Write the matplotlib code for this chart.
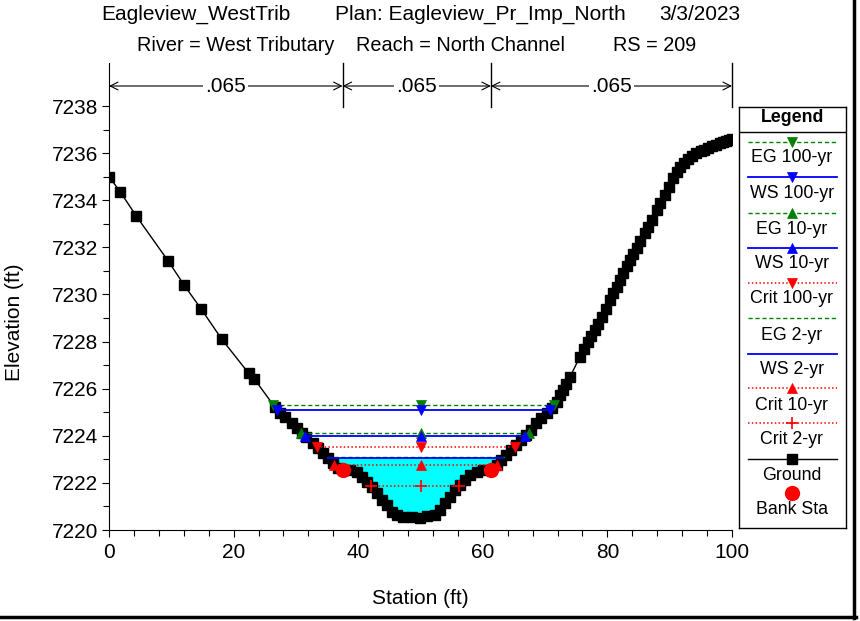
import numpy as np
import matplotlib
matplotlib.use("Agg")
import matplotlib.pyplot as plt
from matplotlib.lines import Line2D

plt.rcParams['font.family'] = ['Liberation Sans', 'DejaVu Sans']

# ---------------- data ----------------
title_parts = ["Eagleview_WestTrib", "Plan: Eagleview_Pr_Imp_North", "3/3/2023"]
subtitle_parts = ["River = West Tributary", "Reach = North Channel", "RS = 209"]

ground_sta = [0, 1.8, 4.4, 9.5, 12.1, 14.8, 18.1, 22.4, 23.3, 26.6, 27.4, 28.25, 29.3, 30.1,
              30.9, 31.7, 32.8, 33.6, 34.4, 35.2, 36.0, 36.8, 37.5, 38.7, 39.8, 40.6, 41.4,
              42.2, 43.0, 43.8, 44.6, 45.4, 46.2, 47.2, 48.6, 49.9, 51.0, 52.3, 53.1, 53.9,
              54.7, 55.5, 56.3, 57.1, 57.9, 59.0, 60.1, 61.3, 62.2, 63.0, 63.8, 64.6, 65.4,
              66.2, 67.0, 67.8, 68.6, 69.4, 70.3, 71.1, 71.9, 72.4, 72.9, 73.4, 74.0, 75.6,
              76.2, 76.9, 77.4, 78.0, 78.5, 79.1, 79.7, 80.4, 80.9, 81.5, 82.0, 82.55, 83.1,
              83.6, 84.1, 84.7, 85.3, 86.0, 86.5, 87.1, 87.9, 88.5, 89.2, 89.9, 90.6, 91.1,
              91.65, 92.3, 93.0, 93.6, 94.3, 95.0, 95.5, 96.2, 96.8, 97.4, 98.0, 98.5, 99.0,
              99.5, 100.0]
ground_elev = [7235.0, 7234.36, 7233.32, 7231.42, 7230.38, 7229.38, 7228.1, 7226.66, 7226.42,
               7225.23, 7224.95, 7224.81, 7224.53, 7224.32, 7224.1, 7223.96, 7223.68, 7223.47,
               7223.26, 7223.04, 7222.83, 7222.62, 7222.55, 7222.55, 7222.48, 7222.26, 7222.05,
               7221.84, 7221.56, 7221.27, 7221.06, 7220.78, 7220.64, 7220.56, 7220.54, 7220.52,
               7220.58, 7220.64, 7220.85, 7221.13, 7221.41, 7221.7, 7221.91, 7222.12, 7222.33,
               7222.48, 7222.55, 7222.55, 7222.76, 7222.97, 7223.18, 7223.4, 7223.61, 7223.82,
               7224.03, 7224.24, 7224.53, 7224.74, 7224.95, 7225.17, 7225.45, 7225.73, 7225.94,
               7226.2, 7226.5, 7227.36, 7227.68, 7227.99, 7228.22, 7228.49, 7228.76, 7229.05,
               7229.4, 7229.76, 7230.05, 7230.33, 7230.6, 7230.9, 7231.2, 7231.46, 7231.7,
               7231.96, 7232.26, 7232.59, 7232.88, 7233.16, 7233.58, 7233.9, 7234.22, 7234.58,
               7234.93, 7235.2, 7235.42, 7235.6, 7235.75, 7235.88, 7236.0, 7236.08, 7236.15,
               7236.22, 7236.3, 7236.36, 7236.42, 7236.47, 7236.52, 7236.56, 7236.6]

bank_sta = [37.5, 61.3]
bank_elev = [7222.55, 7222.55]

profile_names = ["EG 100-yr", "WS 100-yr", "EG 10-yr", "WS 10-yr", "Crit 100-yr",
                 "EG 2-yr", "WS 2-yr", "Crit 10-yr", "Crit 2-yr"]
profile_elev = [7225.31, 7225.09, 7224.13, 7223.99, 7223.54, 7223.11, 7223.04, 7222.78, 7221.88]

n_break_sta = [0, 37.5, 61.3, 100]
n_values = [".065", ".065", ".065"]

# ---------------- styles ----------------
GREEN = '#008000'
BLUE = '#0000ff'
RED = '#ff0000'
styles = {
    "EG 100-yr": dict(color=GREEN, ls=(0, (3, 2)), lw=1.0, marker='v', ms=7),
    "WS 100-yr": dict(color=BLUE, ls='-', lw=1.3, marker='v', ms=7),
    "EG 10-yr": dict(color=GREEN, ls=(0, (3, 2)), lw=1.0, marker='^', ms=7),
    "WS 10-yr": dict(color=BLUE, ls='-', lw=1.3, marker='^', ms=7),
    "Crit 100-yr": dict(color=RED, ls=(0, (1, 1.5)), lw=1.1, marker='v', ms=7),
    "EG 2-yr": dict(color=GREEN, ls=(0, (3, 2)), lw=1.0, marker=None, ms=0),
    "WS 2-yr": dict(color=BLUE, ls='-', lw=1.3, marker=None, ms=0),
    "Crit 10-yr": dict(color=RED, ls=(0, (1, 1.5)), lw=1.1, marker='^', ms=7),
    "Crit 2-yr": dict(color=RED, ls=(0, (1, 1.5)), lw=1.1, marker='+', ms=9),
}

FS = 15
FS2 = 14.3
LFS = 12.8

W, H = 860, 621
fig = plt.figure(figsize=(W / 100, H / 100), dpi=100)

def fx(px):
    return px / W

def fy(py):
    return 1 - py / H

ax_left, ax_right, ax_top, ax_bot = 109, 732, 63, 530
ax = fig.add_axes([fx(ax_left), fy(ax_bot), (ax_right - ax_left) / W, (ax_bot - ax_top) / H])
ppf = (530 - 106) / 18.0
ytop = 7220 + (ax_bot - ax_top) / ppf
ax.set_xlim(0, 100)
ax.set_ylim(7220, ytop)

gs = np.array(ground_sta)
ge = np.array(ground_elev)
imin = int(np.argmin(ge))

def crossings(z):
    xl = None
    for i in range(imin, 0, -1):
        if ge[i - 1] >= z >= ge[i]:
            t = (z - ge[i]) / (ge[i - 1] - ge[i])
            xl = gs[i] + t * (gs[i - 1] - gs[i])
            break
    xr = None
    for i in range(imin, len(gs) - 1):
        if ge[i] <= z <= ge[i + 1]:
            t = (z - ge[i]) / (ge[i + 1] - ge[i])
            xr = gs[i] + t * (gs[i + 1] - gs[i])
            break
    return xl, xr

# water fill for WS 2-yr
ws2 = profile_elev[profile_names.index("WS 2-yr")]
xl, xr = crossings(ws2)
mask = (gs > xl) & (gs < xr)
poly_x = [xl] + list(gs[mask]) + [xr]
poly_y = [ws2] + list(ge[mask]) + [ws2]
ax.fill(poly_x, poly_y, color='#00ffff', zorder=1, lw=0)

# ground
ax.plot(gs, ge, color='black', lw=1.0, marker='s', ms=6.5, mfc='black', mec='black', zorder=3)

# profiles
for name, z in zip(profile_names, profile_elev):
    st = styles[name]
    a, b = crossings(z)
    xs = [a, 50, b]
    ys = [z, z, z]
    mk = st['marker']
    ax.plot(xs, ys, color=st['color'], ls=st['ls'], lw=st['lw'], zorder=4)
    if mk is not None:
        ax.plot(xs, ys, ls='none', marker=mk, ms=st['ms'], color=st['color'],
                mec=st['color'], mew=1.2 if mk == '+' else 0.5, zorder=5)

# bank stations
ax.plot(bank_sta, bank_elev, ls='none', marker='o', ms=10, color=RED, mec=RED, zorder=6)

# axes styling
for s in ['top', 'right']:
    ax.spines[s].set_visible(False)
ax.set_xticks(np.arange(0, 101, 20))
ax.set_xticks(np.arange(0, 101, 4), minor=True)
ax.set_yticks(np.arange(7220, 7239, 2))
ax.set_yticks(np.arange(7220, 7239, 1), minor=True)
ax.tick_params(which='major', direction='out', length=5, width=0.8, labelsize=FS)
ax.tick_params(axis='x', which='major', pad=4)
ax.tick_params(axis='y', which='major', pad=3)
ax.tick_params(which='minor', direction='out', length=4, width=0.8)
ax.set_xlabel("Station (ft)", fontsize=FS)
ax.set_ylabel("Elevation (ft)", fontsize=FS)
ax.xaxis.set_label_coords((420 - ax_left) / (ax_right - ax_left), -(598 - ax_bot) / (ax_bot - ax_top))
ax.yaxis.set_label_coords(-(109 - 14) / (ax_right - ax_left), (ax_bot - 322) / (ax_bot - ax_top))
ax.xaxis.label.set_va('center')
ax.yaxis.label.set_va('center')

# Manning's n annotation
y_arrow = 7220 + (530 - 86) / ppf
y_vbot = 7220 + (530 - 107) / ppf
for s in n_break_sta[1:]:
    ax.plot([s, s], [y_vbot, ytop], color='black', lw=1.0, clip_on=False, zorder=7)
for i, nv in enumerate(n_values):
    a, b = n_break_sta[i], n_break_sta[i + 1]
    ax.annotate('', xy=(a, y_arrow), xytext=(b, y_arrow),
                arrowprops=dict(arrowstyle='<->', lw=0.8, color='black', shrinkA=0, shrinkB=0,
                                mutation_scale=14), annotation_clip=False)
    ax.text((a + b) / 2, y_arrow, nv, ha='center', va='center', fontsize=FS,
            bbox=dict(facecolor='white', edgecolor='none', pad=1.5), zorder=8, clip_on=False)

# titles
fig.text(fx(101), fy(20), title_parts[0], ha='left', va='baseline', fontsize=FS)
fig.text(fx(335), fy(20), title_parts[1], ha='left', va='baseline', fontsize=FS)
fig.text(fx(740), fy(20), title_parts[2], ha='right', va='baseline', fontsize=FS)
fig.text(fx(236), fy(51), subtitle_parts[0], ha='center', va='baseline', fontsize=FS2)
fig.text(fx(461), fy(51), subtitle_parts[1], ha='center', va='baseline', fontsize=FS2)
fig.text(fx(655), fy(51), subtitle_parts[2], ha='center', va='baseline', fontsize=FS2)

# legend (custom box)
lg_l, lg_r, lg_t, lg_b = 739, 846, 107, 528
lax = fig.add_axes([fx(lg_l), fy(lg_b), (lg_r - lg_l) / W, (lg_b - lg_t) / H])
lax.set_xlim(lg_l, lg_r)
lax.set_ylim(lg_b, lg_t)
lax.set_xticks([])
lax.set_yticks([])
for s in lax.spines.values():
    s.set_linewidth(1.0)
lax.text((lg_l + lg_r) / 2, 117, "Legend", ha='center', va='center', fontsize=LFS, fontweight='bold')
lax.plot([lg_l, lg_r], [131.5, 131.5], color='black', lw=1.0)
line_y = [141.7, 176.7, 212.7, 247.7, 282.7, 318.3, 354, 388.3, 423.3]
text_y = [158, 193, 229, 263.5, 298.5, 335, 370, 405, 440]
cx = 792
for name, ly, ty in zip(profile_names, line_y, text_y):
    st = styles[name]
    lax.plot([748, 837], [ly, ly], color=st['color'], ls=st['ls'], lw=st['lw'])
    if st['marker'] is not None:
        lax.plot([cx], [ly], ls='none', marker=st['marker'], ms=st['ms'], color=st['color'],
                 mec=st['color'], mew=1.2 if st['marker'] == '+' else 0.5)
    lax.text(cx, ty, name, ha='center', va='center', fontsize=LFS)
lax.plot([748, 837], [459.3, 459.3], color='black', lw=1.0)
lax.plot([cx], [459.3], ls='none', marker='s', ms=6.5, color='black')
lax.text(cx, 476, "Ground", ha='center', va='center', fontsize=LFS)
lax.plot([cx], [493.3], ls='none', marker='o', ms=10, color=RED)
lax.text(cx, 510, "Bank Sta", ha='center', va='center', fontsize=LFS)

# outer frame (right and bottom thick border)
fig.add_artist(Line2D([fx(854), fx(854)], [fy(0), fy(618)], color='black', lw=2.5))
fig.add_artist(Line2D([fx(0), fx(855.5)], [fy(617), fy(617)], color='black', lw=2.5))

fig.savefig("out.png", dpi=100, facecolor='white')
